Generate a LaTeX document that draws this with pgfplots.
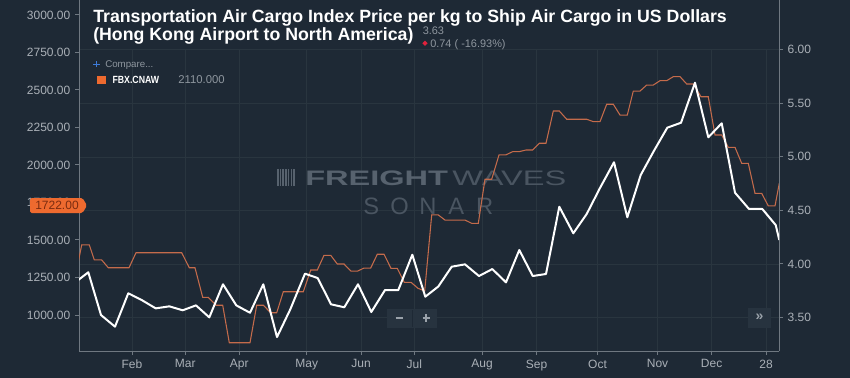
\documentclass[border=0pt]{standalone}
\usepackage{pgfplots}
\pgfplotsset{compat=1.18}
\usepackage{pgfplotstable}
\usepackage{fontspec}
\setmainfont{Liberation Sans}
\newfontfamily\condfont{Liberation Sans}[FakeStretch=0.84]
\newfontfamily\wmwide{Liberation Sans}[FakeStretch=1.55]

\definecolor{bg}{HTML}{1E2935}
\definecolor{gridc}{HTML}{29353F}
\definecolor{axisc}{HTML}{6F7881}
\definecolor{tickc}{HTML}{AAB0B7}
\definecolor{orline}{HTML}{C46B4B}
\definecolor{ortag}{HTML}{EE6A2F}
\definecolor{tagtxt}{HTML}{7A2C10}
\definecolor{wmF}{HTML}{57626E}
\definecolor{wmL}{HTML}{4A5561}
\definecolor{btn}{HTML}{27333F}
\definecolor{btntxt}{HTML}{9AA2AA}
\definecolor{plusblue}{HTML}{3D7BD9}
\definecolor{downred}{HTML}{E0223C}
\definecolor{greytxt}{HTML}{8E969E}

% FBX.CNAW (left axis)
\pgfplotstableread{
x y
78.3 1355
81.7 1467
89.3 1467
94.3 1367
101.7 1367
108.3 1315
129 1315
136 1415
181.7 1415
189.3 1315
195 1315
202.7 1118
208.3 1118
216 1065
222.7 1065
229.3 815
250 815
256.7 1065
263.3 1065
270.7 1015
276.7 1015
283.3 1155
303.3 1155
310.7 1300
317.3 1300
324 1398
330.7 1398
337.3 1340
344 1340
351 1293
357.7 1293
364 1313
370.7 1313
377.3 1405
384 1405
391 1311
397.3 1311
404.3 1218
411 1218
418 1178
424.7 1160
431.7 1667
438.3 1667
445 1633
465 1633
471.7 1611
478.3 1611
485 1905
491.7 1905
499 2067
505.7 2067
512.7 2089
519.3 2089
526 2100
532.7 2100
539.3 2145
546 2145
553.3 2360
559.3 2360
566.7 2305
586.7 2305
593.3 2289
600 2289
606.7 2405
613.3 2405
620 2333
627.3 2333
633.3 2493
640 2493
646.7 2533
653.3 2533
660 2562
666.7 2562
673.3 2589
680 2589
686.7 2540
693.3 2540
701 2455
708.3 2455
715 2200
721.7 2200
728.3 2118
735 2118
741.7 2011
748.3 2011
755 1811
761.7 1811
768.3 1727
775 1727
779.3 1878
}\orangetab

% Air cargo index (right axis)
\pgfplotstableread{
x y
78.3 3.850
88.3 3.922
101 3.523
115 3.414
128.3 3.726
141.7 3.663
155.7 3.585
169.3 3.604
182.7 3.567
196 3.613
209.3 3.501
223 3.810
236.3 3.613
250 3.544
263.3 3.810
277 3.317
290.3 3.576
305 3.909
317.7 3.868
331 3.623
344.3 3.595
358 3.810
371.3 3.551
385 3.756
398.3 3.756
412.3 4.086
425.3 3.694
438.3 3.789
451.7 3.974
465 3.996
479 3.887
492.3 3.952
506 3.828
519.3 4.130
532.7 3.887
546 3.906
559.3 4.534
573.3 4.286
586.7 4.466
600 4.709
614 4.949
627.3 4.435
640.7 4.830
654 5.057
667.3 5.272
681 5.318
695 5.692
708.3 5.182
721.7 5.313
735 4.665
749 4.513
762.3 4.513
775.7 4.363
779.3 4.223
}\whitetab

\pgfplotsset{
  commonax/.style={
    at={(59.25pt,-263.25pt)}, anchor=south west,
    scale only axis, width=525pt, height=263.25pt,
    xmin=79, xmax=779,
    axis line style={axisc, line width=0.75pt},
    tick align=outside, major tick length=3pt,
    tick style={axisc, line width=0.75pt},
    ticklabel style={font=\fontsize{9}{10}\selectfont, text=tickc},
    yticklabel style={/pgf/number format/fixed, /pgf/number format/fixed zerofill,
      /pgf/number format/precision=2, /pgf/number format/1000 sep={},
      /pgf/number format/assume math mode=true},
  }
}

\begin{document}
\begin{tikzpicture}
\begin{scope}[x=0.75pt,y=-0.75pt]
  \fill[bg] (0,0) rectangle (850,378);
  \foreach \yy in {49.7,103.3,157,210.5,264,317.6}
    \draw[gridc,line width=0.75pt] (79,\yy) -- (779,\yy);
  \foreach \xx in {132,185.3,239.3,306.7,361,414.3,482,536.5,597.5,657.5,711.6,766}
    \draw[gridc,line width=0.75pt] (\xx,49.7) -- (\xx,351);
  % watermark
  \foreach \i in {0,...,6}
    \fill[wmF] (277+\i*2.7,169) rectangle ++(1.5,17);
  \node[anchor=base west, inner sep=0, text=wmF] at (305,185.5)
    {\wmwide\bfseries\fontsize{15.75}{16}\selectfont FREIGHT};
  \node[anchor=base west, inner sep=0, text=wmL] at (452,185.5)
    {\wmwide\fontsize{15.75}{16}\selectfont WAVES};
  \foreach \c/\xx in {S/371.2,O/399.6,N/428,A/456.4,R/484.8}
    \node[anchor=base, inner sep=0, text=wmL] at (\xx,214)
      {\fontsize{17.8}{18}\selectfont \c};
\end{scope}

\begin{axis}[commonax,
  ymin=760, ymax=3100,
  axis x line*=bottom, axis y line*=left,
  xtick={132,185.3,239.3,306.7,361,414.3,482,536.5,597.5,657.5,711.6,766},
  xticklabels={Feb,Mar,Apr,May,Jun,Jul,Aug,Sep,Oct,Nov,Dec,28},
  ytick={1000,1250,1500,1750,2000,2250,2500,2750,3000},
]
\addplot[orline, line width=0.8pt, mark=none] table[x=x,y=y]{\orangetab};
\end{axis}

\begin{axis}[commonax,
  ymin=3.187, ymax=6.464,
  axis y line*=right, axis x line=none,
  ytick={3.5,4,4.5,5,5.5,6},
]
\addplot[white, line width=1.5pt, mark=none, line join=round] table[x=x,y=y]{\whitetab};
\end{axis}

\begin{scope}[x=0.75pt,y=-0.75pt]
  % title
  \node[anchor=base west, inner sep=0, text=white] at (93,22.7)
    {\fontsize{13.3}{13.3}\selectfont\bfseries Transportation Air Cargo Index Price per kg to Ship Air Cargo in US Dollars};
  \node[anchor=base west, inner sep=0, text=white] at (93,40.2)
    {\fontsize{13.3}{13.3}\selectfont\bfseries (Hong Kong Airport to North America)};
  \node[anchor=base west, inner sep=0, text=greytxt] at (422.5,34.3)
    {\fontsize{8.2}{9}\selectfont 3.63};
  \fill[downred] (425,40.7) -- (427.6,43.3) -- (425,45.9) -- (422.4,43.3) -- cycle;
  \node[anchor=base west, inner sep=0, text=greytxt] at (430,47.3)
    {\fontsize{8.2}{9}\selectfont 0.74 ( -16.93\%)};
  % legend
  \draw[plusblue, line width=1.1pt] (93.3,64.3) -- (99.7,64.3) (96.5,61.1) -- (96.5,67.5);
  \node[anchor=base west, inner sep=0, text=greytxt] at (105,67.3)
    {\fontsize{7.3}{8}\selectfont Compare...};
  \fill[ortag] (96.7,75.7) rectangle (105.7,84);
  \node[anchor=base west, inner sep=0, text=white] at (112.3,83.5)
    {\condfont\bfseries\fontsize{7.8}{8}\selectfont FBX.CNAW};
  \node[anchor=base west, inner sep=0, text=greytxt] at (178,83.5)
    {\fontsize{8.5}{9}\selectfont 2110.000};
  % value tag
  \fill[ortag, rounded corners=1.2] (30,198) -- (82.5,198) -- (87,205.5) -- (82.5,213) -- (30,213) -- cycle;
  \node[anchor=center, inner sep=0, text=tagtxt] at (57,205.7)
    {\fontsize{9}{10}\selectfont 1722.00};
  % zoom buttons
  \fill[btn] (387,309) rectangle (437,327.5);
  \draw[bg, line width=0.75pt] (412,310) -- (412,326.5);
  \draw[btntxt, line width=1.3pt] (395.5,318.2) -- (403,318.2);
  \draw[btntxt, line width=1.3pt] (422.5,318.2) -- (430,318.2) (426.25,314.4) -- (426.25,322);
  \fill[btn] (748,308) rectangle (771,328);
  \node[anchor=center, inner sep=0, text=btntxt] at (759.5,317.5)
    {\fontsize{10.5}{11}\selectfont\bfseries »};
  \pgfresetboundingbox
  \path[use as bounding box] (0,0) rectangle (850,378);
\end{scope}
\end{tikzpicture}
\end{document}
